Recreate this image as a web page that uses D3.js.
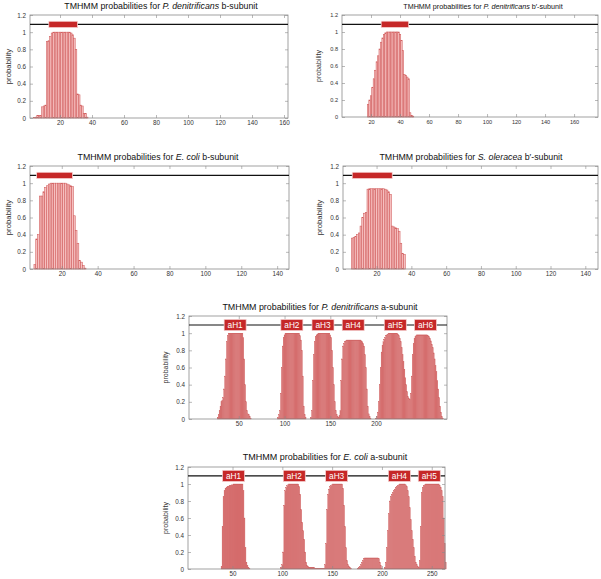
<!DOCTYPE html>
<html>
<head>
<meta charset="utf-8">
<script src="https://cdn.jsdelivr.net/npm/d3@7"></script>
<style>
body { margin: 0; background: #fff; }
svg { display: block; font-family: "Liberation Sans", Arial, sans-serif; }
</style>
</head>
<body>
<div id="chart"></div>
<script>
// ---- data (per-residue TMHMM probabilities) ----
var yTicks = [0, 0.2, 0.4, 0.6, 0.8, 1, 1.2];

// P. denitrificans b-subunit
var pdbStart = 4;
var pdbProb = [0.005,0.01,0.03,0.03,0.03,0.13,0.14,0.15,0.89,0.9,0.95,0.99,
  1,1,1,1,1,1,1,1,1,1,1,
  0.99,0.97,0.93,0.8,0.28,0.27,0.15,0.14,0.05,0.05,0.01];
var pdbTm = [13, 31];
var pdbTicks = [20, 40, 60, 80, 100, 120, 140, 160];

// P. denitrificans b'-subunit
var pdb2Start = 18;
var pdb2Prob = [0.15,0.2,0.25,0.35,0.45,0.55,0.65,0.72,0.8,0.88,0.93,0.97,0.99,
  1,1,1,1,1,1,1,1,1,
  0.97,0.9,0.78,0.5,0.49,0.47,0.45,0.05,0.02,0.01];
var pdb2Tm = [27, 46];
var pdb2Ticks = [20, 40, 60, 80, 100, 120, 140, 160];

// E. coli b-subunit
var ecbStart = 5;
var ecbProb = [0.05,0.35,0.4,0.85,0.85,0.9,0.95,0.97,0.99,
  1,1,1,1,1,1,1,1,1,
  0.99,0.98,0.97,0.96,0.62,0.45,0.3,0.1,0.08,0.04,0.01];
var ecbTm = [6, 26];
var ecbTicks = [20, 40, 60, 80, 100, 120, 140];

// S. oleracea b'-subunit
var sobStart = 6;
var sobProb = [0.36,0.37,0.38,0.4,0.42,0.5,0.6,0.65,0.66,0.93,
  0.935,0.935,0.935,0.935,0.935,0.935,0.935,0.935,0.935,
  0.93,0.92,0.9,0.87,0.5,0.49,0.48,0.47,0.44,0.3,0.18,0.17];
var sobTm = [6, 29];
var sobTicks = [20, 40, 60, 80, 100, 120, 140];

// P. denitrificans a-subunit
var pdaStart = 27;
var pdaProb = [
  // aH1
  0.02,0.05,0.1,0.15,0.2,0.22,0.25,0.35,0.5,0.7,0.9,0.97,
  1,1,1,1,1,1,1,1,1,1,1,1,1,1,1,1,
  0.95,0.7,0.4,0.2,0.1,0.06,0.05,0.03,0.01,
  0,0,0,0,0,0,0,0,0,0,0,0,0,0,0,0,0,0,0,0,0,0,0,0,0,0,0,0,0,
  // aH2
  0.02,0.05,0.1,0.3,0.6,0.85,0.95,0.98,
  1,1,1,1,1,1,1,1,1,1,1,1,1,1,1,1,
  0.97,0.92,0.8,0.5,0.15,0.05,0.02,
  0,0,0,0,0,
  // aH3
  0.02,0.1,0.45,0.75,0.9,0.96,0.98,0.99,
  1,1,1,1,1,1,1,1,1,1,1,1,1,
  0.98,0.95,0.8,0.6,0.4,0.2,0.1,0.05,0.03,0.02,
  // aH4
  0.04,0.1,0.45,0.7,0.85,0.88,0.9,0.91,
  0.92,0.92,0.92,0.92,0.92,0.92,0.92,0.92,0.92,0.92,0.92,0.92,0.92,0.92,0.92,0.92,
  0.91,0.9,0.88,0.85,0.75,0.6,0.35,0.15,0.06,0.03,0.01,
  0,0,0,0,0,
  // aH5
  0.01,0.03,0.08,0.2,0.4,0.6,0.78,0.86,0.9,0.93,0.95,0.97,0.98,0.99,
  1,1,1,1,1,1,1,1,1,1,
  0.99,0.97,0.94,0.9,0.83,0.75,0.67,0.58,0.48,0.4,0.32,0.26,0.24,0.23,0.3,
  // aH6
  0.5,0.75,0.88,0.94,0.96,0.97,
  0.98,0.98,0.98,0.98,0.98,0.98,0.98,0.98,0.98,0.98,0.98,0.98,
  0.97,0.96,0.94,0.91,0.87,0.83,0.77,0.7,0.62,0.55,0.45,0.35,0.25,0.15,0.08,0.03,0.01];
var pdaHelices = ["aH1", "aH2", "aH3", "aH4", "aH5", "aH6"];
var pdaHelixMid = [46, 108, 142, 175, 221, 254];
var pdaTicks = [50, 100, 150, 200];

// E. coli a-subunit
var ecaStart = 39;
var ecaProb = [
  // aH1
  0.03,0.5,0.85,0.92,0.95,0.96,0.97,0.97,0.98,0.98,0.99,0.99,
  1,1,1,1,1,1,1,1,1,1,
  0.92,0.6,0.25,0.08,0.04,0.02,0.01,
  0,0,0,0,0,0,0,0,0,0,0,0,0,0,0,0,0,0,0,0,0,0,0,0,0,0,0,0,0,0,0,
  // aH2
  0.02,0.05,0.2,0.75,0.92,0.96,0.98,0.99,
  1,1,1,1,1,1,1,1,1,1,
  0.97,0.88,0.7,0.55,0.45,0.35,0.2,0.08,0.04,0.03,
  0.02,0.02,0.02,0.02,0.02,0.02,0.01,0.01,0.01,0.01,0.01,0.01,0.01,0.01,0.01,0.01,
  // aH3
  0.05,0.3,0.7,0.88,0.94,0.97,0.98,0.99,
  1,1,1,1,1,1,1,1,1,1,
  0.95,0.75,0.5,0.25,0.1,0.05,0.03,0.02,0.01,
  0,0,0,0,0,0,
  // small hump
  0.01,0.02,0.03,0.05,0.08,0.1,0.12,
  0.13,0.13,0.13,0.13,0.13,0.13,0.13,0.13,0.13,0.13,0.13,0.13,0.13,0.13,
  0.12,0.08,0.04,0.01,0,0,
  // aH4
  0.02,0.08,0.25,0.45,0.65,0.8,0.85,0.88,0.9,0.92,0.94,0.96,0.97,0.98,0.99,
  1,1,1,1,1,1,
  0.99,0.97,0.92,0.85,0.72,0.58,0.45,0.35,0.25,0.15,0.08,0.05,0.03,0.02,
  // aH5
  0.1,0.5,0.9,0.96,0.98,0.99,
  1,1,1,1,1,1,1,1,1,1,1,1,1,1,
  0.98,0.96,0.92,0.85,0.6,0.3,0.08];
var ecaHelices = ["aH1", "aH2", "aH3", "aH4", "aH5"];
var ecaHelixMid = [51, 112, 154.5, 217.5, 247.5];
var ecaTicks = [50, 100, 150, 200, 250];

// ---- layout ----
var W = 601, H = 579;
var TM_RED = "#c62828";

var panels = [
  { species: "P. denitrificans", rest: " b-subunit", box: [30, 288, 15, 118], domain: [1.25, 162.5],
    ticks: pdbTicks, start: pdbStart, prob: pdbProb, tm: pdbTm, titleY: 8.5, titleX: 161, titleSize: 8.8,
    ylabX: 8, tickSize: 6.3, ylabSize: 7.8 },
  { species: "P. denitrificans", rest: " b\u2032-subunit", box: [342, 598, 15, 117], domain: [0, 176.5],
    ticks: pdb2Ticks, start: pdb2Start, prob: pdb2Prob, tm: pdb2Tm, titleY: 8.5, titleX: 483, titleSize: 7.2,
    ylabX: 319, tickSize: 5.6, ylabSize: 7 },
  { species: "E. coli", rest: " b-subunit", box: [30, 289, 166, 269], domain: [2.3, 146.6],
    ticks: ecbTicks, start: ecbStart, prob: ecbProb, tm: ecbTm, titleY: 159.5, titleX: 158, titleSize: 8.8,
    ylabX: 8, tickSize: 6.3, ylabSize: 7.8 },
  { species: "S. oleracea", rest: " b\u2032-subunit", box: [343, 598, 166, 269], domain: [0.7, 147.3],
    ticks: sobTicks, start: sobStart, prob: sobProb, tm: sobTm, titleY: 159.5, titleX: 471, titleSize: 8.8,
    ylabX: 319, tickSize: 6.3, ylabSize: 7.8 },
  { species: "P. denitrificans", rest: " a-subunit", box: [189, 447, 316, 419], domain: [-4.4, 277.5],
    ticks: pdaTicks, start: pdaStart, prob: pdaProb, helices: pdaHelices, helixMid: pdaHelixMid,
    titleY: 310, titleX: 320, titleSize: 8.9, ylabX: 166, tickSize: 6.3, ylabSize: 7 },
  { species: "E. coli", rest: " a-subunit", box: [188, 445, 467, 569], domain: [5.3, 263.3],
    ticks: ecaTicks, start: ecaStart, prob: ecaProb, helices: ecaHelices, helixMid: ecaHelixMid,
    titleY: 460, titleX: 325, titleSize: 9, ylabX: 166, tickSize: 6.3, ylabSize: 7 }
];

var svg = d3.select("#chart").append("svg")
  .attr("width", W)
  .attr("height", H);

panels.forEach(function(p) {
  var x = d3.scaleLinear().domain(p.domain).range([p.box[0], p.box[1]]);
  var y = d3.scaleLinear().domain([0, 1.2]).range([p.box[3], p.box[2]]);
  var g = svg.append("g");
  var dense = !!p.helices;

  var bars = p.prob.map(function(v, i) { return { res: p.start + i, v: v }; })
    .filter(function(d) { return d.v > 0; });

  // bars, one per residue
  g.selectAll("rect.bar")
    .data(bars)
    .enter().append("rect")
    .attr("class", "bar")
    .attr("x", function(d) { return x(d.res - 0.5); })
    .attr("width", function(d) { return x(d.res + 0.5) - x(d.res - 0.5); })
    .attr("y", function(d) { return y(d.v); })
    .attr("height", function(d) { return y(0) - y(d.v); })
    .attr("fill", dense ? "#da7676" : "#f6c0c0")
    .attr("stroke", dense ? "#cd5e5e" : "#d05a5a")
    .attr("stroke-width", dense ? 0.3 : 0.55);

  // frame
  g.append("rect")
    .attr("x", p.box[0]).attr("y", p.box[2])
    .attr("width", p.box[1] - p.box[0]).attr("height", p.box[3] - p.box[2])
    .attr("fill", "none").attr("stroke", "#8a8a8a").attr("stroke-width", 0.8);

  // axes (inward ticks, mirrored)
  var xb = g.append("g").attr("transform", "translate(0," + p.box[3] + ")")
    .call(d3.axisBottom(x).tickValues(p.ticks).tickSize(-3).tickPadding(3));
  var xt = g.append("g").attr("transform", "translate(0," + p.box[2] + ")")
    .call(d3.axisTop(x).tickValues(p.ticks).tickSize(-3).tickFormat(""));
  var yl = g.append("g").attr("transform", "translate(" + p.box[0] + ",0)")
    .call(d3.axisLeft(y).tickValues(yTicks).tickSize(-3).tickPadding(4).tickFormat(d3.format("~g")));
  var yr = g.append("g").attr("transform", "translate(" + p.box[1] + ",0)")
    .call(d3.axisRight(y).tickValues(yTicks).tickSize(-3).tickFormat(""));
  [xb, xt, yl, yr].forEach(function(a) {
    a.select(".domain").remove();
    a.selectAll("line").attr("stroke", "#8a8a8a").attr("stroke-width", 0.6);
    a.selectAll("text").attr("fill", "#333").style("font-size", p.tickSize + "px")
      .style("font-family", "\"Liberation Sans\", Arial, sans-serif");
  });

  // membrane topology line
  var yLine = y(dense ? 1.095 : 1.09);
  g.append("line")
    .attr("x1", p.box[0]).attr("x2", p.box[1])
    .attr("y1", yLine).attr("y2", yLine)
    .attr("stroke", "#111").attr("stroke-width", 1.2);

  if (p.tm) {
    g.append("rect")
      .attr("x", x(p.tm[0])).attr("width", x(p.tm[1]) - x(p.tm[0]))
      .attr("y", yLine - 3.2).attr("height", 6.4)
      .attr("fill", TM_RED).attr("stroke", "#fbe0e0").attr("stroke-width", 0.7);
  }

  if (p.helices) {
    var hl = g.selectAll("g.helix")
      .data(p.helices.map(function(h, i) { return { name: h, mid: p.helixMid[i] }; }))
      .enter().append("g")
      .attr("class", "helix")
      .attr("transform", function(d) { return "translate(" + x(d.mid) + "," + yLine + ")"; });
    hl.append("rect")
      .attr("x", -11).attr("y", -5.6).attr("width", 22).attr("height", 11.2)
      .attr("fill", TM_RED).attr("stroke", "#f5d5d5").attr("stroke-width", 0.7);
    hl.append("text")
      .attr("text-anchor", "middle").attr("dy", "0.36em")
      .attr("fill", "#fff").style("font-size", "8.3px")
      .text(function(d) { return d.name; });
  }

  // title
  var t = g.append("text")
    .attr("x", p.titleX).attr("y", p.titleY)
    .attr("text-anchor", "middle")
    .attr("fill", "#111")
    .style("font-size", p.titleSize + "px");
  t.append("tspan").text("TMHMM probabilities for ");
  t.append("tspan").style("font-style", "italic").text(p.species);
  t.append("tspan").text(p.rest);

  // y label
  g.append("text")
    .attr("transform", "translate(" + p.ylabX + "," + ((p.box[2] + p.box[3]) / 2) + ") rotate(-90)")
    .attr("text-anchor", "middle")
    .attr("dy", "0.35em")
    .attr("fill", "#333")
    .style("font-size", p.ylabSize + "px")
    .text("probability");
});
</script>
</body>
</html>
